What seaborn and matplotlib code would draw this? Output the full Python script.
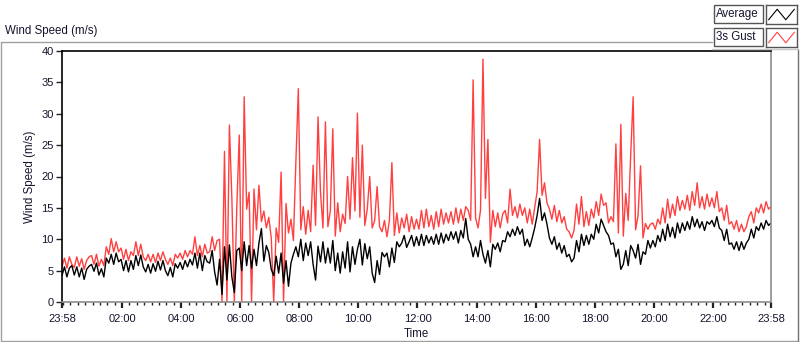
import numpy as np
import pandas as pd
import matplotlib
matplotlib.use("Agg")
import matplotlib.pyplot as plt
import seaborn as sns
from matplotlib.lines import Line2D
from matplotlib.patches import Rectangle
from matplotlib.ticker import FixedLocator

# ---------------- data (5-minute samples starting 23:58) ----------------
average_ms = [
    4.2, 5.6, 4.0, 5.4, 5.8, 4.3, 5.6, 4.0, 5.4, 3.6, 5.2, 5.7,       # 00
    6.0, 4.9, 6.2, 4.3, 5.3, 4.0, 7.0, 6.2, 7.6, 6.0, 7.8, 6.4,       # 01
    6.8, 5.0, 6.6, 4.8, 6.6, 5.2, 7.4, 5.8, 7.5, 5.6, 4.8, 6.0,       # 02
    4.6, 6.1, 4.9, 6.5, 5.1, 6.6, 5.0, 4.2, 5.5, 4.0, 6.1, 5.4,       # 03
    6.3, 5.2, 6.6, 5.6, 6.8, 5.9, 7.8, 5.4, 7.8, 5.0, 7.4, 6.4,       # 04
    6.2, 8.2, 4.8, 2.7, 6.8, 1.2, 8.8, 3.5, 9.1, 4.0, 1.5, 8.2,       # 05
    8.6, 5.0, 9.6, 5.8, 9.0, 5.4, 8.4, 5.8, 9.4, 11.7, 6.5, 9.0,      # 06
    7.9, 5.2, 4.2, 7.3, 4.6, 7.8, 3.0, 6.6, 2.5, 6.2, 7.6, 8.8,       # 07
    7.2, 10.0, 6.6, 9.4, 7.4, 9.6, 6.0, 3.5, 8.9, 6.4, 9.6, 6.2,      # 08
    8.6, 6.2, 9.8, 5.0, 7.8, 4.6, 8.0, 5.4, 9.6, 4.8, 8.8, 6.0,       # 09
    8.4, 10.0, 5.9, 9.3, 6.9, 8.8, 4.6, 3.1, 6.6, 4.4, 7.9, 7.2,      # 10
    7.8, 5.6, 8.6, 6.3, 9.6, 8.8, 9.4, 10.6, 8.7, 9.6, 10.6, 8.9,     # 11
    10.4, 9.0, 10.8, 9.0, 10.6, 9.4, 10.4, 9.2, 10.8, 9.2, 11.0, 9.4, # 12
    10.8, 9.8, 11.2, 10.0, 11.2, 9.4, 11.4, 10.2, 13.3, 10.0, 9.2, 7.2,   # 13
    8.8, 7.2, 9.8, 7.6, 6.2, 8.2, 5.6, 9.2, 8.4, 9.4, 8.0, 9.8,       # 14
    9.6, 11.2, 10.4, 11.6, 10.6, 12.0, 10.8, 11.6, 9.0, 10.0, 8.8, 10.2,  # 15
    11.8, 13.8, 16.5, 13.0, 14.2, 12.4, 10.2, 9.2, 10.4, 8.4, 9.4, 7.8,   # 16
    9.0, 7.2, 7.6, 6.4, 7.0, 9.8, 8.0, 10.8, 9.0, 10.6, 9.2, 10.8,    # 17
    10.0, 12.4, 11.0, 13.2, 12.2, 11.2, 10.6, 9.2, 9.4, 7.2, 8.4, 5.2,    # 18
    6.0, 8.2, 5.8, 9.0, 8.2, 7.0, 9.2, 6.0, 8.0, 7.6, 9.8, 8.6,       # 19
    9.8, 8.8, 10.6, 9.6, 11.6, 9.8, 12.4, 10.4, 11.9, 10.2, 12.6, 11.0,   # 20
    12.6, 11.4, 12.8, 11.6, 13.6, 12.0, 13.2, 11.8, 12.8, 11.4, 12.8, 12.4, # 21
    13.0, 12.0, 13.6, 11.8, 11.4, 9.8, 11.6, 9.2, 9.4, 8.4, 9.6, 8.2,     # 22
    9.6, 8.4, 9.4, 10.0, 11.6, 10.2, 12.0, 11.4, 12.6, 11.6, 13.0, 12.2,  # 23
    12.6,
]

gust_ms = [
    5.6, 7.0, 5.4, 7.2, 6.0, 5.5, 7.2, 5.7, 6.9, 5.2, 6.6, 7.2,       # 00
    7.4, 6.0, 7.6, 5.7, 6.8, 5.8, 8.8, 7.6, 10.1, 8.0, 9.6, 8.0,      # 01
    8.6, 6.8, 8.4, 6.6, 8.0, 7.4, 9.6, 7.4, 9.2, 7.2, 6.6, 7.6,       # 02
    6.4, 7.6, 6.3, 7.8, 6.6, 8.0, 6.8, 6.0, 7.0, 5.8, 7.6, 7.0,       # 03
    7.8, 6.8, 8.2, 7.2, 8.2, 7.6, 10.4, 7.4, 9.0, 7.2, 9.2, 7.8,      # 04
    8.0, 10.4, 8.2, 9.8, 10.0, 0.0, 24.0, 0.0, 28.2, 16.5, 0.0, 15.0,     # 05
    26.6, 0.0, 32.7, 14.8, 17.5, 0.0, 18.0, 11.5, 18.6, 12.8, 14.5, 11.8, # 06
    13.5, 10.2, 0.0, 11.8, 9.5, 20.7, 0.0, 15.7, 11.0, 13.2, 9.8, 22.3,   # 07
    34.0, 11.5, 15.2, 10.8, 14.6, 11.2, 21.8, 12.2, 29.5, 17.5, 11.8, 28.7, # 08
    12.0, 14.5, 27.6, 10.5, 15.8, 11.2, 14.0, 12.5, 20.0, 13.2, 23.0, 14.5, # 09
    30.1, 13.5, 25.0, 12.2, 14.8, 20.0, 11.8, 13.0, 18.4, 12.0, 11.2, 13.0, # 10
    10.4, 13.0, 22.2, 10.6, 14.2, 11.0, 13.4, 11.8, 14.0, 11.2, 13.6, 11.6, # 11
    13.2, 11.6, 14.6, 11.8, 14.8, 12.0, 13.8, 11.6, 14.4, 12.0, 14.8, 12.4, # 12
    14.2, 12.6, 14.4, 12.4, 15.0, 12.6, 14.8, 13.0, 15.2, 14.6, 13.0, 35.4, # 13
    13.4, 11.8, 14.6, 38.7, 16.5, 25.9, 9.5, 14.6, 12.0, 14.2, 11.8, 14.0,  # 14
    14.6, 12.6, 18.0, 13.8, 15.2, 13.4, 15.6, 13.8, 15.0, 12.6, 14.8, 12.4, # 15
    15.0, 17.6, 25.9, 17.0, 19.0, 15.8, 14.8, 13.2, 15.4, 12.8, 14.6, 12.6, # 16
    13.6, 11.6, 11.2, 10.2, 11.4, 15.6, 12.4, 16.8, 12.0, 14.4, 12.2, 14.8, # 17
    13.4, 16.0, 13.8, 17.2, 15.4, 15.8, 12.6, 13.6, 12.8, 25.2, 11.0, 28.3, # 18
    10.5, 17.3, 13.0, 23.4, 32.7, 11.5, 13.8, 21.7, 10.2, 12.5, 11.6, 12.4, # 19
    12.6, 11.6, 13.2, 12.4, 15.0, 12.6, 16.4, 13.4, 15.6, 13.8, 16.8, 14.6, # 20
    16.2, 14.8, 17.0, 14.6, 17.6, 15.4, 19.0, 15.0, 16.8, 14.8, 17.2, 15.2, # 21
    16.6, 15.0, 17.6, 14.4, 15.0, 13.0, 15.4, 12.4, 12.8, 11.6, 13.0, 11.2, # 22
    12.4, 11.2, 12.0, 13.6, 14.4, 12.6, 15.0, 14.2, 15.6, 14.2, 16.0, 14.8, # 23
    15.2,
]

time_labels = ["23:58", "02:00", "04:00", "06:00", "08:00", "10:00", "12:00",
               "14:00", "16:00", "18:00", "20:00", "22:00", "23:58"]
y_ticks = [0, 5, 10, 15, 20, 25, 30, 35, 40]

# elapsed hours since 23:58
hours = np.arange(len(average_ms)) * 5 / 60.0
df = pd.DataFrame({"hours": hours, "Average": average_ms, "3s Gust": gust_ms})

# tick positions: start, every even hour (offset 2 min), end
tick_pos = [0.0] + [(h * 60 + 2) / 60.0 for h in range(2, 23, 2)] + [24.0]
minor_pos = [(2 + 15 * k) / 60.0 for k in range(0, 96)]
minor_pos = [m for m in minor_pos if 0 < m < 24 and all(abs(m - t) > 1e-6 for t in tick_pos)]

# ---------------- style ----------------
sns.set_style("white")
plt.rcParams["font.family"] = ["Liberation Sans", "DejaVu Sans"]
TXT = "#14142e"
RED = "#ff4040"

W, H = 800, 342
fig = plt.figure(figsize=(8.0, 3.42), dpi=100)
fig.patch.set_facecolor("white")

ax = fig.add_axes([62 / W, 1 - 302 / H, (771 - 62) / W, (302 - 51) / H])
sns.lineplot(data=df, x="hours", y="3s Gust", ax=ax, color=RED, lw=1.0,
             legend=False, estimator=None)
sns.lineplot(data=df, x="hours", y="Average", ax=ax, color="black", lw=1.0,
             legend=False, estimator=None)

ax.set_xlim(0, 24)
ax.set_ylim(0, 40)
ax.set_xticks(tick_pos)
ax.set_xticklabels(time_labels)
ax.xaxis.set_minor_locator(FixedLocator(minor_pos))
ax.set_yticks(y_ticks)
ax.set_yticklabels([str(v) for v in y_ticks])

ax.tick_params(axis="both", which="major", direction="out", length=4, width=1,
               color="#222222", labelsize=8, labelcolor=TXT, pad=2)
ax.tick_params(axis="x", which="minor", direction="out", length=2.5, width=1,
               color="#222222")
ax.tick_params(axis="x", which="major", length=4.5, width=1.6, pad=4)
ax.tick_params(bottom=True, left=True, which="both")
ax.tick_params(axis="y", which="minor", left=False)

for side in ["left", "top"]:
    ax.spines[side].set_color("black")
    ax.spines[side].set_linewidth(1.2)
for side in ["right", "bottom"]:
    ax.spines[side].set_color("#8c8c8c")
    ax.spines[side].set_linewidth(1.2)
    ax.spines[side].set_visible(True)

ax.set_xlabel("Time", fontsize=8.3, color=TXT, labelpad=3)
ax.set_ylabel("Wind Speed (m/s)", fontsize=8.3, color=TXT, labelpad=4)

# ---------------- outer panel frame ----------------
def fline(x0, y0, x1, y1, c="#a0a0a0", lw=1.0):
    fig.add_artist(Line2D([x0 / W, x1 / W], [1 - y0 / H, 1 - y1 / H],
                          color=c, lw=lw, transform=fig.transFigure))

fline(0.5, 42, 712, 42)
fline(0.5, 42, 0.5, 341)
fline(0.5, 341, 798, 341)
fline(798, 49, 798, 341, c="#707070")
fline(712, 49, 798, 49, c="#c8c8c8")

fig.text(5 / W, 1 - 31 / H, "Wind Speed (m/s)", fontsize=8.3, color=TXT,
         ha="left", va="center")

# ---------------- LabVIEW-like legend ----------------
legend_names = ["Average", "3s Gust"]
legend_colors = ["black", RED]
for i, (name, col) in enumerate(zip(legend_names, legend_colors)):
    y0 = 5 + i * 23
    fig.add_artist(Rectangle((714 / W, 1 - (y0 + 18) / H), 49 / W, 18 / H,
                             transform=fig.transFigure, facecolor="white",
                             edgecolor="#555555", lw=1.0))
    fig.text(716 / W, 1 - (y0 + 9) / H, name, fontsize=8.3, color=TXT,
             ha="left", va="center")
    iax = fig.add_axes([766 / W, 1 - (y0 + 19) / H, 31 / W, 19 / H])
    iax.set_xlim(-0.3, 3.3)
    iax.set_ylim(-0.4, 1.4)
    iax.plot([0, 1, 2, 3], [0, 1, 0, 1], color=col, lw=0.8)
    iax.set_xticks([])
    iax.set_yticks([])
    for s in iax.spines.values():
        s.set_color("#555555")
        s.set_linewidth(1.0)

fig.savefig("out.png", dpi=100, facecolor="white")
